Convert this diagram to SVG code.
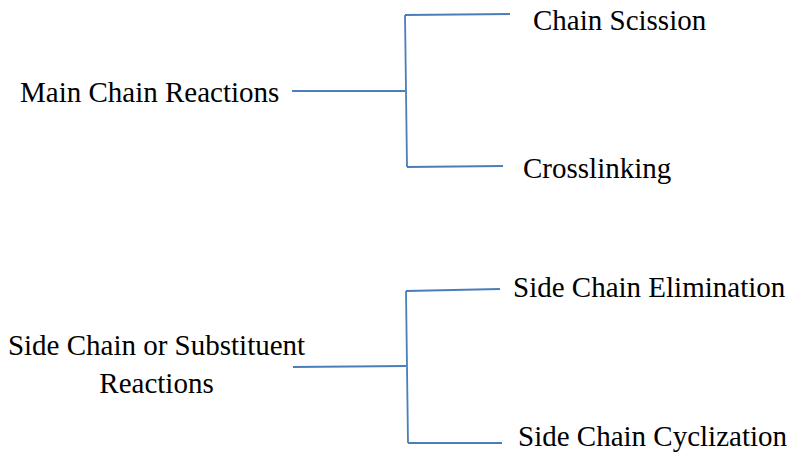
<svg xmlns="http://www.w3.org/2000/svg" width="789" height="457" viewBox="0 0 789 457">
<style>
text{font-family:"Liberation Serif","Times New Roman",serif;font-size:29px;fill:#000}
.c line{stroke:#4a7ebb;stroke-width:1.8;fill:none}
</style>
<rect width="789" height="457" fill="#fff"/>
<g class="c" id="connectors">
<line x1="292" y1="91" x2="405" y2="91"/>
<line x1="405" y1="15" x2="407" y2="167"/>
<line x1="405" y1="15" x2="510" y2="14"/>
<line x1="407" y1="167" x2="503" y2="166"/>
<line x1="293" y1="367" x2="406" y2="366"/>
<line x1="406" y1="291" x2="408" y2="443"/>
<line x1="406" y1="291" x2="500" y2="289"/>
<line x1="408" y1="443" x2="502" y2="443"/>
</g>
<g id="main"><text x="20" y="102">Main Chain Reactions</text></g>
<g id="scission"><text x="533" y="30">Chain Scission</text></g>
<g id="crosslinking"><text x="523" y="178">Crosslinking</text></g>
<g id="side"><text x="156.5" y="355" text-anchor="middle">Side Chain or Substituent</text><text x="156.5" y="393" text-anchor="middle">Reactions</text></g>
<g id="elimination"><text x="513" y="297">Side Chain Elimination</text></g>
<g id="cyclization"><text x="518" y="446">Side Chain Cyclization</text></g>
</svg>
